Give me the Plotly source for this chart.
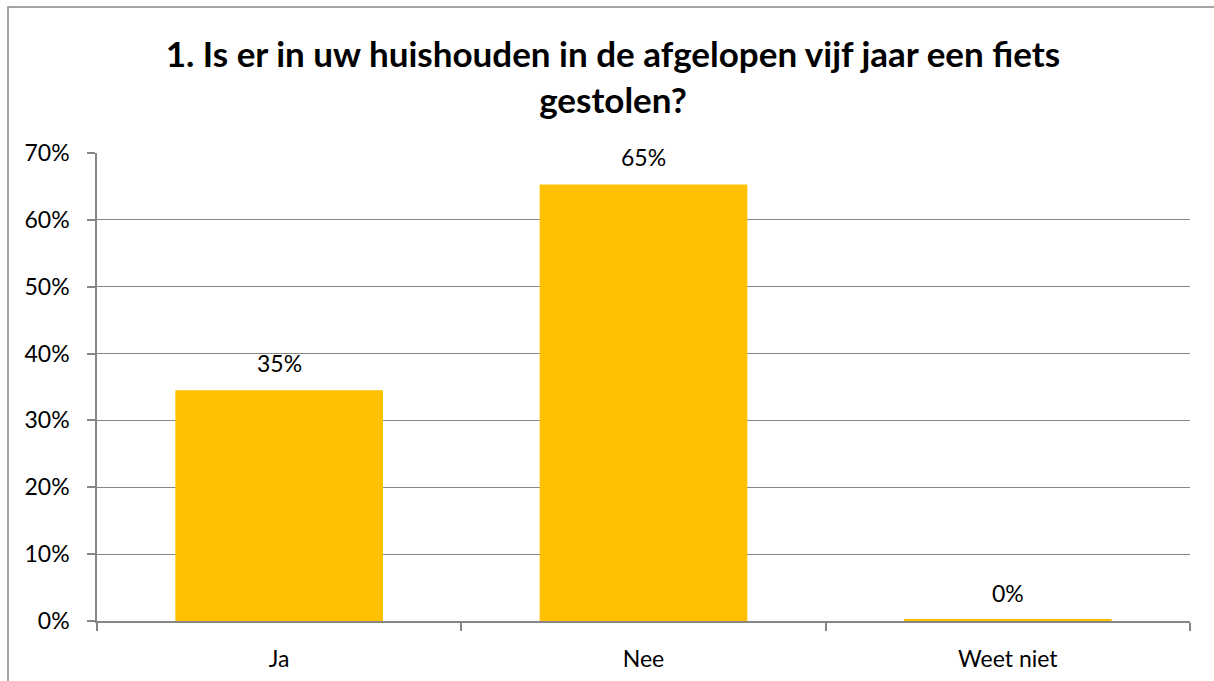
import plotly.graph_objects as go

categories = ["Ja", "Nee", "Weet niet"]
values = [34.5, 65.3, 0.2]
labels = ["35%", "65%", "0%"]
y_ticks = [0, 10, 20, 30, 40, 50, 60, 70]
y_ticklabels = ["0%", "10%", "20%", "30%", "40%", "50%", "60%", "70%"]
title = "1. Is er in uw huishouden in de afgelopen vijf jaar een fiets<br>gestolen?"

FONT = "Lato"
GRAY = "#868686"

fig = go.Figure()
fig.add_trace(go.Bar(
    x=categories, y=values,
    marker=dict(color="#FFC000", line=dict(width=0)),
    width=0.57,
    hoverinfo="skip",
))

for c, v, t in zip(categories, values, labels):
    fig.add_annotation(x=c, y=v, text=t, showarrow=False, yanchor="bottom",
                       yshift=11, font=dict(family=FONT, size=23, color="#000000"))

L, R, T, B = 97, 24, 153, 60
W, H = 1214, 681
pw, ph = W - L - R, H - T - B

fig.add_shape(type="rect", xref="paper", yref="paper",
              x0=(8 - L) / pw, x1=(W + 5 - L) / pw,
              y0=(H - B - (H + 5)) / ph, y1=(H - B - 7) / ph,
              line=dict(color=GRAY, width=1.5), fillcolor="rgba(0,0,0,0)", layer="below")

fig.update_layout(
    width=W, height=H,
    margin=dict(l=L, r=R, t=T, b=B, autoexpand=False),
    paper_bgcolor="white", plot_bgcolor="white",
    showlegend=False,
    title=dict(text=title, x=613 / W, xref="container", xanchor="center",
               y=1 - 67 / H, yanchor="top",
               font=dict(family=FONT, size=35, color="#000000", weight="bold")),
    font=dict(family=FONT, size=23, color="#000000"),
    xaxis=dict(
        type="category", showgrid=False, showline=True, linecolor=GRAY, linewidth=1.5,
        ticks="outside", tickson="boundaries", ticklen=8, tickcolor=GRAY, tickwidth=1.5,
        tickfont=dict(family=FONT, size=23), ticklabelstandoff=17,
        range=[-0.5, 2.5], automargin=False,
    ),
    yaxis=dict(
        range=[0, 70], tickvals=y_ticks, ticktext=y_ticklabels,
        showgrid=True, gridcolor=GRAY, gridwidth=1,
        showline=True, linecolor=GRAY, linewidth=1.5,
        ticks="outside", ticklen=8, tickcolor=GRAY, tickwidth=1.5,
        tickfont=dict(family=FONT, size=23), ticklabelstandoff=13,
        zeroline=False, automargin=False,
    ),
)

fig.write_html("out.html", config={"displayModeBar": False},
               post_script="document.body.style.margin='0';document.body.style.overflow='hidden';")
